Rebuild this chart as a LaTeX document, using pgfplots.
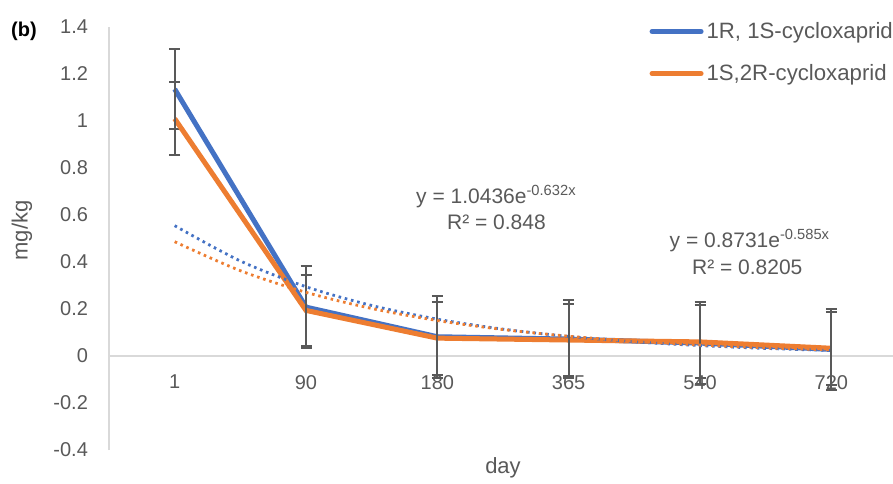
\documentclass[border=0pt]{standalone}
\usepackage{fontspec}
\setmainfont{Liberation Sans}
\usepackage{pgfplots}
\pgfplotsset{compat=1.18}

\definecolor{xlblue}{HTML}{4472C4}
\definecolor{xlorange}{HTML}{ED7D31}
\definecolor{txtgray}{HTML}{595959}
\definecolor{axgray}{HTML}{D9D9D9}

\begin{document}
\begin{tikzpicture}
\begin{axis}[
  at={(0pt,0pt)}, anchor=south west,
  scale only axis,
  width=394pt, height=211.5pt,
  xmin=-0.5, xmax=5.5,
  ymin=-0.4, ymax=1.4,
  axis x line=middle,
  axis y line=left,
  axis line style={draw=axgray, line width=0.8pt, -},
  major tick length=0pt,
  xtick={0,1,2,3,4,5},
  xticklabels={1,90,180,365,540,720},
  ytick={-0.4,-0.2,0,0.2,0.4,0.6,0.8,1,1.2,1.4},
  yticklabels={-0.4,-0.2,0,0.2,0.4,0.6,0.8,1,1.2,1.4},
  tick label style={text=txtgray, font=\fontsize{10}{12}\selectfont},
  xticklabel style={yshift=-6pt},
  yticklabel style={xshift=-7pt},
  xlabel={day},
  ylabel={mg/kg},
  label style={text=txtgray, font=\fontsize{11}{13}\selectfont},
  xlabel style={at={(rel axis cs:0.5,0)}, anchor=center, yshift=-9pt},
  ylabel style={at={(rel axis cs:0,0.5)}, anchor=center, rotate=0, yshift=43.5pt, xshift=4pt},
  legend style={at={(0.6855,1.02)}, anchor=north west, draw=none, fill=none,
    inner sep=0pt, row sep=8.5pt, text=txtgray,
    font=\fontsize{11.1}{13}\selectfont,
    nodes={inner sep=1.5pt}},
  legend cell align=left,
  legend image code/.code={\draw[#1, line cap=round] (0pt,0pt) -- (24.5pt,0pt);},
  clip=false,
]
% measured series with standard deviations
\addplot[xlblue, line width=2.5pt, mark=none,
  error bars/.cd, y dir=both, y explicit,
  error bar style={txtgray, line width=1pt},
  error mark options={txtgray, line width=1pt, rotate=90, mark size=2.75pt}]
  coordinates {
  (0,1.136) +- (0,0.170)
  (1,0.208) +- (0,0.175)
  (2,0.082) +- (0,0.175)
  (3,0.072) +- (0,0.165)
  (4,0.055) +- (0,0.175)
  (5,0.028) +- (0,0.172)
};
\addlegendentry{1R, 1S-cycloxaprid}
\addplot[xlorange, line width=2.5pt, mark=none,
  error bars/.cd, y dir=both, y explicit,
  error bar style={txtgray, line width=1pt},
  error mark options={txtgray, line width=1pt, rotate=90, mark size=2.75pt}]
  coordinates {
  (0,1.010) +- (0,0.155)
  (1,0.194) +- (0,0.150)
  (2,0.076) +- (0,0.155)
  (3,0.068) +- (0,0.152)
  (4,0.060) +- (0,0.155)
  (5,0.033) +- (0,0.155)
};
\addlegendentry{1S,2R-cycloxaprid}
% exponential trendlines (values of the fitted curves)
\addplot[xlblue, line width=1.4pt, dash pattern=on 1.3pt off 1.9pt, smooth, forget plot]
  coordinates {
  (0,0.5547) (0.5,0.4044) (1,0.2948) (1.5,0.2150) (2,0.1567) (2.5,0.1143)
  (3,0.0833) (3.5,0.0607) (4,0.0443) (4.5,0.0323) (5,0.0235)
};
\addplot[xlorange, line width=1.4pt, dash pattern=on 1.3pt off 1.9pt, smooth, forget plot]
  coordinates {
  (0,0.4864) (0.5,0.3630) (1,0.2710) (1.5,0.2022) (2,0.1510) (2.5,0.1127)
  (3,0.0841) (3.5,0.0628) (4,0.0469) (4.5,0.0350) (5,0.0261)
};
\node[text=txtgray, font=\fontsize{10.5}{12}\selectfont] at (axis cs:2.45,0.68) {y = 1.0436e\textsuperscript{-0.632x}};
\node[text=txtgray, font=\fontsize{10.5}{12}\selectfont] at (axis cs:2.45,0.569) {R² = 0.848};
\node[text=txtgray, font=\fontsize{10.5}{12}\selectfont] at (axis cs:4.38,0.492) {y = 0.8731e\textsuperscript{-0.585x}};
\node[text=txtgray, font=\fontsize{10.5}{12}\selectfont] at (axis cs:4.36,0.377) {R² = 0.8205};
\end{axis}
\node[font=\bfseries\fontsize{10}{12}\selectfont] at (-42.5pt,209.5pt) {(b)};
\pgfresetboundingbox
\useasboundingbox (-54.5pt,-16.5pt) rectangle (392pt,225pt);
\end{tikzpicture}
\end{document}
